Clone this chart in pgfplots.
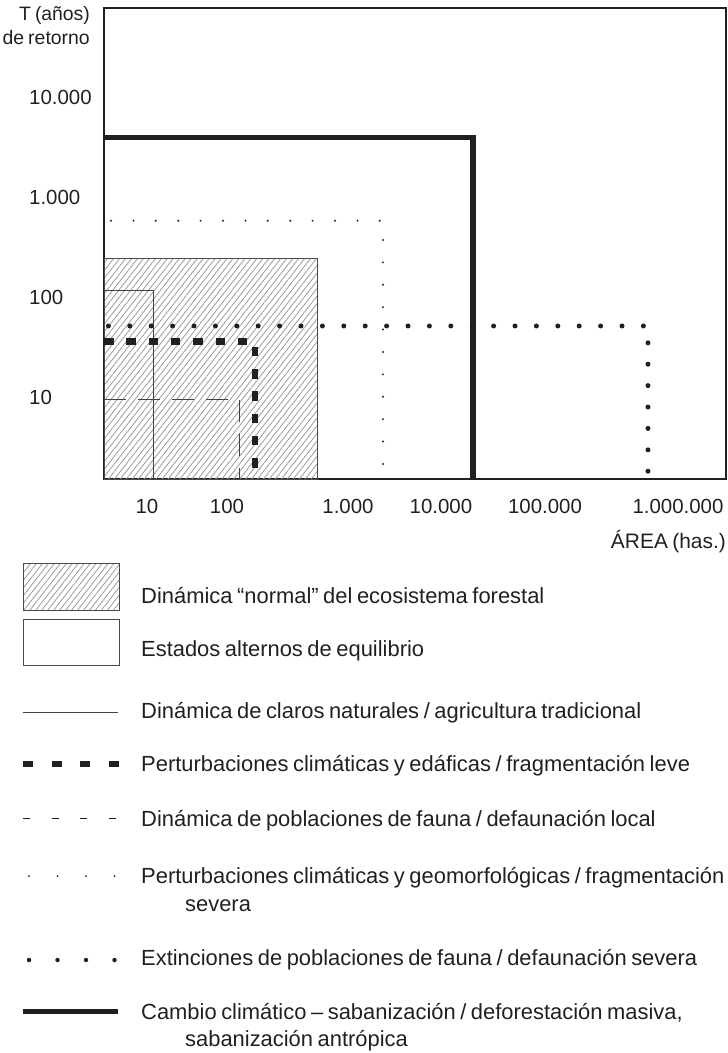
\documentclass[border=0pt]{standalone}
\usepackage{fontspec}
\setmainfont{Liberation Sans}[WordSpace=0.75]
\usepackage{pgfplots}
\pgfplotsset{compat=1.18}
\usetikzlibrary{patterns.meta}
\definecolor{ink}{HTML}{231F20}
\definecolor{hatch}{HTML}{9A9A9A}
\definecolor{frame}{HTML}{4A4A4A}
\newcommand{\fs}{\fontsize{20.5}{24}\selectfont}
\newcommand{\fl}{\fontsize{22}{26}\selectfont}
\begin{document}
\begin{tikzpicture}[x=1bp,y=1bp,font=\fs,text=ink]
\useasboundingbox (0,0) rectangle (728,-1053);
\begin{axis}[
  at={(104bp,-479bp)}, anchor=south west,
  scale only axis, width=622bp, height=471bp,
  xmode=log, ymode=log,
  xmin=5.30, xmax=4.01e6, ymin=1.514, ymax=77600,
  clip=false,
  axis line style={ink, line width=1.2bp},
  xtick={13.5,77,1072,8110,78000,1.41e6},
  xticklabels={10,100,1.000,10.000,100.000,1.000.000},
  ytick={10,100,1000,10000},
  yticklabels={10,100,1.000,10.000},
  minor xtick={}, minor ytick={},
  major tick length=0pt,
  tick style={draw=none},
  xticklabel style={font=\fs, text=ink, anchor=base, inner sep=0pt, yshift=-34bp},
  yticklabel style={font=\fs, text=ink, anchor=base west, inner sep=0pt, xshift=-75bp, yshift=-7.4bp},
]
% hatched area: normal dynamics of the forest ecosystem
\addplot[draw=frame, line width=1bp,
  pattern={Lines[angle=52,distance=4.7bp,line width=0.8bp]}, pattern color=hatch]
  coordinates {(5.30,1.514) (558,1.514) (558,240) (5.30,240) (5.30,1.514)};
% thin solid: claros naturales
\addplot[ink!85, line width=0.9bp] coordinates {(5.30,116) (15.4,116) (15.4,1.514)};
% long dashed: poblaciones de fauna
\addplot[ink!85, line width=0.9bp, dash pattern=on 22bp off 12bp] coordinates {(5.30,9.55) (100,9.55) (100,1.514)};
% thick dashed: perturbaciones edaficas
\addplot[ink, line width=6.5bp, dash pattern=on 9.5bp off 12.8bp] coordinates {(5.30,35.7) (142,35.7) (142,1.514)};
% small dots: perturbaciones geomorfologicas
\addplot[ink, line width=2.2bp, line cap=round, dash pattern=on 0bp off 22.4bp, dash phase=15.4bp] coordinates {(5.30,579) (2296,579) (2296,1.514)};
% big dots: extinciones
\addplot[ink, line width=5bp, line cap=round, dash pattern=on 0bp off 21.4bp, dash phase=17bp] coordinates {(5.30,51.3) (734000,51.3) (734000,1.514)};
% thick solid: cambio climatico
\addplot[ink, line width=5.2bp] coordinates {(5.30,3936) (16300,3936) (16300,1.514)};
\end{axis}
% axis titles
\begin{scope}[every node/.style={inner sep=0pt, font=\fontsize{19.5}{24}\selectfont}]
\node[anchor=base east] at (90,-20) {T (a\kern-0.3pt ños)};
\node[anchor=base east] at (90,-44) {de retorno};
\end{scope}
\node[anchor=base east, inner sep=0pt, font=\fontsize{21}{24}\selectfont] at (726,-548) {ÁREA (has.)};
% legend
\filldraw[draw=frame, line width=1bp, pattern={Lines[angle=52,distance=4.7bp,line width=0.8bp]}, pattern color=hatch] (23,-563) rectangle (119,-610);
\draw[frame, line width=1bp] (23,-619) rectangle (119,-665);
\draw[ink!85, line width=0.9bp] (23,-712) -- (118,-712);
\draw[ink, line width=6bp, dash pattern=on 10bp off 18.5bp] (23,-764) -- (119,-764);
\draw[ink, line width=0.9bp, dash pattern=on 7bp off 21.5bp] (23,-818) -- (119,-818);
\draw[ink, line width=2bp, line cap=round, dash pattern=on 0bp off 28.5bp] (29,-876) -- (116,-876);
\draw[ink, line width=4.5bp, line cap=round, dash pattern=on 0bp off 28.5bp] (29,-960) -- (116,-960);
\draw[ink, line width=5bp] (23,-1011) -- (118,-1011);
\begin{scope}[every node/.style={anchor=base west, inner sep=0pt, font=\fl}]
\node at (141,-603) {Dinámica “normal” del ecosistema forestal};
\node at (141,-656) {Estados alternos de equilibrio};
\node at (141,-718) {Dinámica de claros naturales / agricultura tradicional};
\node at (141,-771) {Perturbaciones climáticas y edáficas / fragmentación leve};
\node at (141,-826) {Dinámica de poblaciones de fauna / defaunación local};
\node at (141,-883) {Perturbaciones climáticas y geomorfológicas / fragmentación};
\node at (185,-911) {severa};
\node at (141,-965) {Extinciones de poblaciones de fauna / defaunación severa};
\node at (141,-1019) {Cambio climático – sabanización / deforestación masiva,};
\node at (185,-1046) {sabanización antrópica};
\end{scope}
\end{tikzpicture}
\end{document}
